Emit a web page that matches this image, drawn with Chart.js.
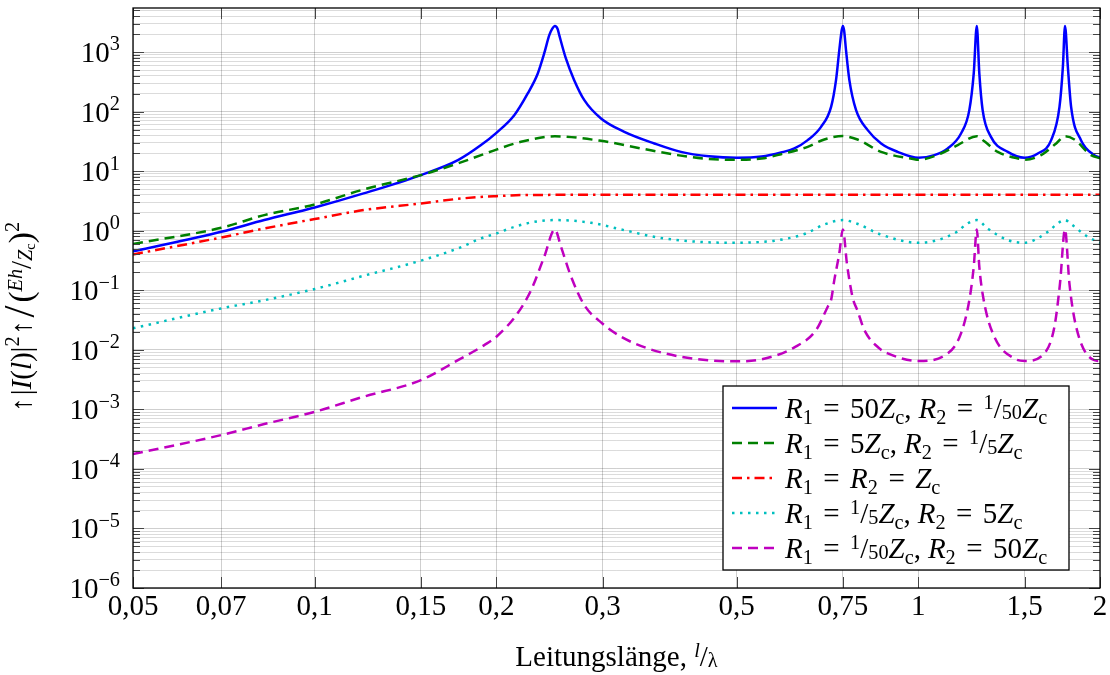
<!DOCTYPE html>
<html>
<head>
<meta charset="utf-8">
<script src="https://cdn.jsdelivr.net/npm/chart.js@4.4.1/dist/chart.umd.min.js"></script>
<style>
  html, body { margin: 0; padding: 0; background: #fff; }
</style>
</head>
<body>
<canvas id="lineChart" width="1110" height="675"></canvas>
<script>
// assi
var xTicks = [0.05, 0.07, 0.1, 0.15, 0.2, 0.3, 0.5, 0.75, 1, 1.5, 2];
var xTickLabels = ['0,05', '0,07', '0,1', '0,15', '0,2', '0,3', '0,5', '0,75', '1', '1,5', '2'];
var yTickValues = [1e-6, 1e-5, 1e-4, 1e-3, 1e-2, 1e-1, 1, 10, 100, 1000];
var yTickExp = ['\u22126', '\u22125', '\u22124', '\u22123', '\u22122', '\u22121', '0', '1', '2', '3'];
var yMin = 1e-6, yMax = 5500;

// R1 = 50 Zc, R2 = 1/50 Zc
var blueX = [0.05, 0.07, 0.0825, 0.1, 0.1205, 0.15, 0.1727, 0.1886, 0.2, 0.2141, 0.2254, 0.2342, 0.24, 0.2447, 0.2474, 0.25, 0.2526, 0.2542, 0.2607, 0.2691, 0.2797, 0.2981, 0.3258, 0.3654, 0.4043, 0.45, 0.5, 0.55, 0.5925, 0.6233, 0.6558, 0.6901, 0.717, 0.7306, 0.7398, 0.7465, 0.75, 0.7535, 0.759, 0.7688, 0.7887, 0.8245, 0.8678, 0.9244, 1.0, 1.0631, 1.1188, 1.177, 1.2149, 1.2355, 1.25, 1.2621, 1.2782, 1.3194, 1.407, 1.5, 1.5777, 1.66, 1.7136, 1.7359, 1.75, 1.7692, 1.7913, 1.86, 1.957, 2.0];
var blueY = [0.45, 0.96, 1.51, 2.46, 4.23, 8.6, 15.3, 27.4, 44, 87, 202, 438, 948, 1923, 2450, 2750, 2450, 1923, 781, 338, 156, 76.8, 45.8, 29.2, 21.1, 17.8, 16.8, 17.6, 20.6, 24.1, 33.2, 55.5, 120, 338, 1077, 2300, 2750, 2300, 1077, 338, 106, 48.9, 29.2, 21.1, 16.8, 18.6, 24.1, 43, 106, 438, 2750, 438, 106, 37.7, 21.1, 16.8, 19.8, 33.2, 120, 565, 2750, 565, 120, 33.2, 18.6, 16.8];

// R1 = 5 Zc, R2 = 1/5 Zc
var greenX = [0.05, 0.07, 0.0825, 0.1, 0.1205, 0.15, 0.1727, 0.1886, 0.2, 0.2197, 0.25, 0.2981, 0.3473, 0.3992, 0.45, 0.5, 0.55, 0.5925, 0.6558, 0.6987, 0.75, 0.793, 0.8678, 0.9852, 1.0, 1.0905, 1.1624, 1.25, 1.285, 1.3539, 1.4796, 1.5, 1.5977, 1.6921, 1.75, 1.814, 1.933, 2.0];
var greenY = [0.6, 1.12, 1.83, 2.76, 4.93, 8.6, 13.5, 18.6, 23, 31.1, 38.5, 32.3, 24.1, 18.6, 16, 15.5, 16.3, 19.3, 25.6, 34.1, 38.8, 34, 21.1, 15.9, 15.5, 19.8, 27.4, 38.7, 32, 21.1, 15.9, 15.5, 18.6, 29.2, 38.7, 34, 18.6, 16.5];

// R1 = R2 = Zc
var redX = [0.05, 0.07, 0.0825, 0.1, 0.1205, 0.15, 0.1727, 0.19, 0.2, 0.22, 0.25, 0.3, 0.5, 1.0, 2.0];
var redY = [0.40, 0.77, 1.09, 1.57, 2.22, 2.87, 3.43, 3.71, 3.81, 3.97, 4.0, 4.0, 4.0, 4.0, 4.0];

// R1 = 1/5 Zc, R2 = 5 Zc
var cyanX = [0.05, 0.07, 0.0825, 0.1, 0.1205, 0.15, 0.1727, 0.1886, 0.2, 0.2141, 0.2312, 0.25, 0.2869, 0.3258, 0.3702, 0.4309, 0.5, 0.5558, 0.5773, 0.6475, 0.70, 0.75, 0.792, 0.865, 1.0, 1.1475, 1.2075, 1.25, 1.3028, 1.407, 1.5, 1.6392, 1.7026, 1.75, 1.7913, 1.908, 2.0];
var cyanY = [0.023, 0.0496, 0.068, 0.105, 0.175, 0.315, 0.505, 0.743, 0.90, 1.16, 1.41, 1.51, 1.36, 1.02, 0.77, 0.652, 0.627, 0.652, 0.677, 0.88, 1.28, 1.51, 1.31, 0.87, 0.627, 0.90, 1.33, 1.51, 1.09, 0.695, 0.627, 0.96, 1.33, 1.51, 1.29, 0.79, 0.627];

// R1 = 1/50 Zc, R2 = 50 Zc
var magX = [0.05, 0.07, 0.0825, 0.1, 0.1205, 0.15, 0.1727, 0.191, 0.2, 0.2168, 0.2283, 0.24, 0.25, 0.2559, 0.266, 0.2797, 0.2996, 0.3217, 0.3563, 0.4043, 0.459, 0.5, 0.5489, 0.6233, 0.677, 0.7079, 0.7169, 0.7258, 0.7398, 0.75, 0.762, 0.7786, 0.7933, 0.8141, 0.862, 0.89, 1.0, 1.119, 1.177, 1.2149, 1.2355, 1.25, 1.2621, 1.2833, 1.3362, 1.4419, 1.5, 1.6176, 1.6807, 1.717, 1.75, 1.7797, 1.8259, 1.957, 2.0];
var magY = [1.77e-4, 3.7e-4, 5.66e-4, 9.1e-4, 1.63e-3, 3.1e-3, 6.7e-3, 0.012, 0.0166, 0.041, 0.1007, 0.365, 1.05, 0.537, 0.168, 0.0563, 0.0277, 0.0166, 0.01055, 0.00764, 0.00655, 0.0064, 0.0069, 0.011, 0.0214, 0.0528, 0.0684, 0.148, 0.416, 1.05, 0.27, 0.075, 0.045, 0.0214, 0.01055, 0.0087, 0.0065, 0.0087, 0.0189, 0.0684, 0.248, 1.05, 0.248, 0.0684, 0.0166, 0.00716, 0.0065, 0.0087, 0.0244, 0.130, 1.05, 0.130, 0.0244, 0.0067, 0.0065];

var SERIF = '"Liberation Serif", "DejaVu Serif", serif';

// pezzi di testo "matematico"
function T(t) { return { t: t }; }
function I(t) { return { t: t, i: true }; }
function S(t) { return { t: t, k: 0.7, dy: 0.22 }; }
function P(t) { return { t: t, k: 0.7, dy: -0.4 }; }
function FU(t) { return { t: t, k: 0.7, dy: -0.3 }; }
function FD(t) { return { t: t, k: 0.7, dy: 0.05 }; }
function G(g) { return { g: g }; }
var EQ = [G(0.36), T('='), G(0.36)];

var legendLabels = [
  [I('R'), S('1')].concat(EQ, [T('50'), I('Z'), S('c'), T(','), G(0.24), I('R'), S('2')], EQ, [FU('1'), T('/'), FD('50'), I('Z'), S('c')]),
  [I('R'), S('1')].concat(EQ, [T('5'), I('Z'), S('c'), T(','), G(0.24), I('R'), S('2')], EQ, [FU('1'), T('/'), FD('5'), I('Z'), S('c')]),
  [I('R'), S('1')].concat(EQ, [I('R'), S('2')], EQ, [I('Z'), S('c')]),
  [I('R'), S('1')].concat(EQ, [FU('1'), T('/'), FD('5'), I('Z'), S('c'), T(','), G(0.24), I('R'), S('2')], EQ, [T('5'), I('Z'), S('c')]),
  [I('R'), S('1')].concat(EQ, [FU('1'), T('/'), FD('50'), I('Z'), S('c'), T(','), G(0.24), I('R'), S('2')], EQ, [T('50'), I('Z'), S('c')])
];
var xTitle = [T('Leitungsl\u00E4nge, '), FU('l'), T('/'), FD('\u03BB')];
xTitle[1].i = true;
var yTitle = [T('\u2191'), G(0.08), T('|'), I('I'), T('('), I('l'), T(')|'), P('2'), G(0.05), T('\u2191'), G(0.1), { t: '/', k: 1.5, dy: 0.12 }, G(0.1), { t: '(', k: 1.15, dy: 0.05 },
  { t: 'Eh', i: true, k: 0.7, dy: -0.3 }, T('/'), { t: 'Z', i: true, k: 0.7, dy: 0.05 }, { t: 'c', k: 0.5, dy: 0.15 }, { t: ')', k: 1.15, dy: 0.05 }, P('2')];

function drawRich(ctx, parts, x, y, fs, align) {
  var items = parts.map(function (p) {
    if (p.g) return { w: p.g * fs };
    ctx.font = (p.i ? 'italic ' : '') + (fs * (p.k || 1)) + 'px ' + SERIF;
    return { p: p, f: ctx.font, w: ctx.measureText(p.t).width, dy: (p.dy || 0) * fs };
  });
  var w = 0;
  items.forEach(function (it) { w += it.w; });
  var cx = x;
  if (align === 'center') cx = x - w / 2;
  if (align === 'right') cx = x - w;
  items.forEach(function (it) {
    if (it.p) { ctx.font = it.f; ctx.fillText(it.p.t, cx, y + it.dy); }
    cx += it.w;
  });
  return w;
}

function pts(xs, ys) {
  return xs.map(function (x, i) { return { x: x, y: ys[i] }; });
}

function isDecade(v) {
  var e = Math.round(Math.log10(v));
  return Math.abs(v / Math.pow(10, e) - 1) < 1e-6;
}

// cornice, tacche interne, etichette y, legenda e titoli
var framePlugin = {
  id: 'frame',
  afterDatasetsDraw: function (chart) {
    var ctx = chart.ctx, a = chart.chartArea, xs = chart.scales.x, ys = chart.scales.y;
    ctx.save();
    ctx.strokeStyle = '#444';
    ctx.lineWidth = 1;
    ctx.beginPath();
    ys.ticks.forEach(function (t) {
      var y = Math.round(ys.getPixelForValue(t.value)) + 0.5;
      var len = isDecade(t.value) ? 11 : 7;
      ctx.moveTo(a.left, y); ctx.lineTo(a.left + len, y);
      ctx.moveTo(a.right, y); ctx.lineTo(a.right - len, y);
    });
    xs.ticks.forEach(function (t) {
      var x = Math.round(xs.getPixelForValue(t.value)) + 0.5;
      ctx.moveTo(x, a.top); ctx.lineTo(x, a.top + 11);
      ctx.moveTo(x, a.bottom); ctx.lineTo(x, a.bottom - 11);
    });
    ctx.stroke();
    ctx.strokeStyle = '#000';
    ctx.lineWidth = 1.3;
    ctx.strokeRect(a.left, a.top, a.right - a.left, a.bottom - a.top);

    ctx.fillStyle = '#000';
    ctx.textBaseline = 'alphabetic';
    // etichette asse y: 10^n
    yTickValues.forEach(function (v, i) {
      var y = ys.getPixelForValue(v);
      drawRich(ctx, [T('10'), P(yTickExp[i])], a.left - 13, y + 10, 29, 'right');
    });

    // legenda
    var lx = 723, ly = 386, lw = 346, lh = 184, row = 35;
    ctx.fillStyle = '#fff';
    ctx.fillRect(lx, ly, lw, lh);
    ctx.strokeRect(lx, ly, lw, lh);
    chart.data.datasets.forEach(function (ds, i) {
      var y = ly + 22 + i * row;
      ctx.save();
      ctx.strokeStyle = ds.borderColor;
      ctx.lineWidth = ds.borderWidth;
      ctx.setLineDash(ds.borderDash || []);
      ctx.beginPath();
      ctx.moveTo(lx + 9, y); ctx.lineTo(lx + 54, y);
      ctx.stroke();
      ctx.restore();
      ctx.fillStyle = '#000';
      drawRich(ctx, legendLabels[i], lx + 62, y + 10, 29, 'left');
    });

    // titoli degli assi
    ctx.fillStyle = '#000';
    drawRich(ctx, xTitle, (a.left + a.right) / 2, 666, 29, 'center');
    ctx.translate(31, 317);
    ctx.rotate(-Math.PI / 2);
    drawRich(ctx, yTitle, 0, 0, 29, 'center');
    ctx.restore();
  }
};

var lineChartCanvas = document.getElementById('lineChart').getContext('2d');

var lineChartData = {
  datasets: [
    { data: pts(blueX, blueY), borderColor: 'rgb(0,0,255)', borderWidth: 2.5, order: 5 },
    { data: pts(greenX, greenY), borderColor: 'rgb(0,128,0)', borderWidth: 2.5, borderDash: [10, 6], order: 4 },
    { data: pts(redX, redY), borderColor: 'rgb(255,0,0)', borderWidth: 2.5, borderDash: [10, 5, 2.5, 5], order: 3 },
    { data: pts(cyanX, cyanY), borderColor: 'rgb(0,191,191)', borderWidth: 2.5, borderDash: [2.5, 5.5], order: 2 },
    { data: pts(magX, magY), borderColor: 'rgb(191,0,191)', borderWidth: 2.5, borderDash: [10, 6], order: 1 }
  ]
};
lineChartData.datasets.forEach(function (ds) {
  ds.pointRadius = 0;
  ds.fill = false;
  ds.cubicInterpolationMode = 'monotone';
});

var gridColor = function (c) {
  return c.tick && isDecade(c.tick.value) ? 'rgba(0,0,0,0.19)' : 'rgba(0,0,0,0.14)';
};

var lineChart = new Chart(lineChartCanvas, {
  type: 'line',
  data: lineChartData,
  plugins: [framePlugin],
  options: {
    responsive: false,
    animation: false,
    devicePixelRatio: 1,
    layout: { padding: { top: 8, right: 10, left: 0, bottom: 0 } },
    plugins: { legend: { display: false }, tooltip: { enabled: false } },
    scales: {
      x: {
        type: 'logarithmic',
        min: 0.05,
        max: 2,
        afterBuildTicks: function (scale) {
          scale.ticks = xTicks.map(function (v) { return { value: v }; });
        },
        afterFit: function (scale) {
          scale.height = 87;
          scale.paddingLeft = 0;
          scale.paddingRight = 0;
        },
        border: { display: false },
        grid: { color: 'rgba(0,0,0,0.19)', lineWidth: 1, drawTicks: false },
        ticks: {
          autoSkip: false,
          maxRotation: 0,
          padding: 2,
          color: '#000',
          font: { family: SERIF, size: 29 },
          callback: function (value) {
            var i = xTicks.indexOf(value);
            return i >= 0 ? xTickLabels[i] : '';
          }
        }
      },
      y: {
        type: 'logarithmic',
        min: yMin,
        max: yMax,
        afterBuildTicks: function (scale) {
          var t = [];
          for (var e = -6; e <= 3; e++) {
            for (var k = 1; k <= 9; k++) {
              var v = parseFloat(k + 'e' + e);
              if (v <= yMax) t.push({ value: v });
            }
          }
          scale.ticks = t;
        },
        afterFit: function (scale) {
          scale.width = 133;
          scale.paddingTop = 0;
          scale.paddingBottom = 0;
        },
        border: { display: false },
        grid: { color: gridColor, lineWidth: 1, drawTicks: false },
        ticks: { display: false }
      }
    }
  }
});
</script>
</body>
</html>
